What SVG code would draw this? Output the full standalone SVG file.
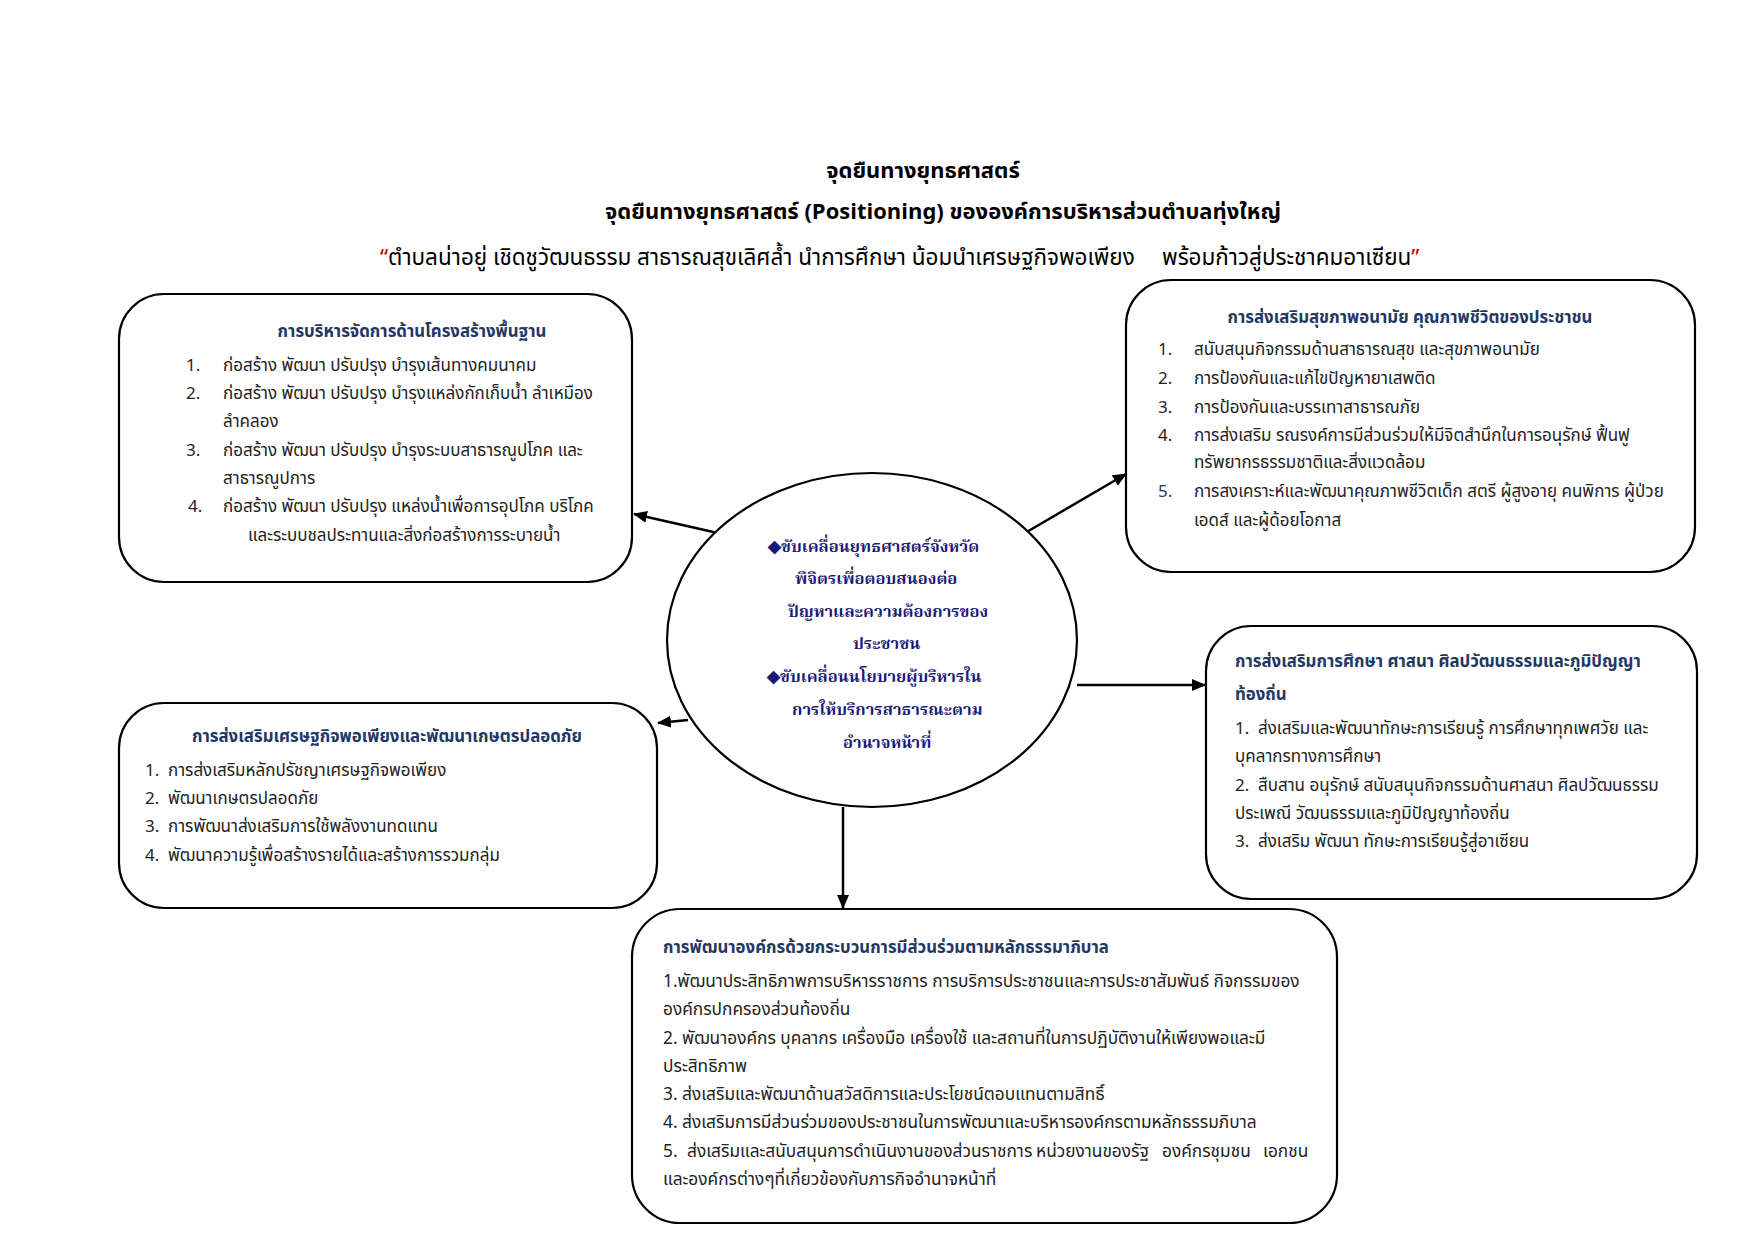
<svg xmlns="http://www.w3.org/2000/svg" width="1754" height="1240" viewBox="0 0 1754 1240">
<style>
.t{font-family:Tahoma,"Noto Sans Thai","Noto Sans Thai UI",Loma,Garuda,"Noto Sans",sans-serif;fill:#222}
.title{font-size:22px;font-weight:bold;fill:#000}
.sub{font-size:22.5px;fill:#000}
.q{fill:#C00000}
.hd{font-size:16.8px;font-weight:bold;fill:#1F3864}
.it{font-size:17px}
.it5{font-size:17.3px}
.c{font-family:"Noto Serif Thai","Angsana New",Tahoma,"Noto Sans Thai",serif;font-size:16.5px;font-weight:bold;fill:#1A1A78}
.box{fill:#fff;stroke:#000;stroke-width:2.2}
.ln{stroke:#000;stroke-width:2.5;fill:none;marker-end:url(#ah)}
</style>
<defs>
<marker id="ah" markerUnits="userSpaceOnUse" markerWidth="14" markerHeight="12" refX="13" refY="6" orient="auto">
<path d="M0,0 L14,6 L0,12 z" fill="#000"/>
</marker>
</defs>
<rect width="1754" height="1240" fill="#fff"/>
<g id="title" class="t">
<text class="t title" x="923" y="178" text-anchor="middle">จุดยืนทางยุทธศาสตร์</text>
<text class="t title" x="943" y="219" text-anchor="middle">จุดยืนทางยุทธศาสตร์ (Positioning) ขององค์การบริหารส่วนตำบลทุ่งใหญ่</text>
<text class="t sub" x="380" y="265"><tspan class="q">“</tspan>ตำบลน่าอยู่ เชิดชูวัฒนธรรม สาธารณสุขเลิศล้ำ นำการศึกษา น้อมนำเศรษฐกิจพอเพียง<tspan x="1162">พร้อมก้าวสู่ประชาคมอาเซียน</tspan><tspan class="q">”</tspan></text>
</g>
<g id="connectors">
<line class="ln" x1="722" y1="534" x2="634" y2="514"/>
<line class="ln" x1="1025" y1="533" x2="1126" y2="474"/>
<line class="ln" x1="1077" y1="685" x2="1205" y2="685"/>
<line class="ln" x1="688" y1="720" x2="658" y2="723"/>
<line class="ln" x1="843" y1="807" x2="843" y2="908"/>
</g>
<g id="center">
<ellipse cx="872" cy="640" rx="205" ry="167" fill="#fff" stroke="#000" stroke-width="2.2"/>
<text class="c" x="768" y="552">◆ขับเคลื่อนยุทธศาสตร์จังหวัด</text>
<text class="c" x="795" y="584">พิจิตรเพื่อตอบสนองต่อ</text>
<text class="c" x="788" y="617">ปัญหาและความต้องการของ</text>
<text class="c" x="853" y="649">ประชาชน</text>
<text class="c" x="767" y="682">◆ขับเคลื่อนนโยบายผู้บริหารใน</text>
<text class="c" x="792" y="715">การให้บริการสาธารณะตาม</text>
<text class="c" x="843" y="748">อำนาจหน้าที่</text>
</g>
<g id="infra">
<rect class="box" x="119" y="294" width="513" height="288" rx="45"/>
<text class="t hd" x="412" y="337" text-anchor="middle">การบริหารจัดการด้านโครงสร้างพื้นฐาน</text>
<g class="t it">
<text x="186" y="371">1.</text><text x="223" y="371">ก่อสร้าง พัฒนา ปรับปรุง บำรุงเส้นทางคมนาคม</text>
<text x="186" y="399">2.</text><text x="223" y="399">ก่อสร้าง พัฒนา ปรับปรุง บำรุงแหล่งกักเก็บน้ำ ลำเหมือง</text>
<text x="223" y="427">ลำคลอง</text>
<text x="186" y="456">3.</text><text x="223" y="456">ก่อสร้าง พัฒนา ปรับปรุง บำรุงระบบสาธารณูปโภค และ</text>
<text x="223" y="484">สาธารณูปการ</text>
<text x="188" y="512">4.</text><text x="223" y="512">ก่อสร้าง พัฒนา ปรับปรุง แหล่งน้ำเพื่อการอุปโภค  บริโภค</text>
<text x="248" y="541">และระบบชลประทานและสิ่งก่อสร้างการระบายน้ำ</text>
</g>
</g>
<g id="health">
<rect class="box" x="1126" y="280" width="569" height="292" rx="45"/>
<text class="t hd" x="1410" y="323" text-anchor="middle">การส่งเสริมสุขภาพอนามัย คุณภาพชีวิตของประชาชน</text>
<g class="t it">
<text x="1158" y="355">1.</text><text x="1194" y="355">สนับสนุนกิจกรรมด้านสาธารณสุข และสุขภาพอนามัย</text>
<text x="1158" y="384">2.</text><text x="1194" y="384">การป้องกันและแก้ไขปัญหายาเสพติด</text>
<text x="1158" y="413">3.</text><text x="1194" y="413">การป้องกันและบรรเทาสาธารณภัย</text>
<text x="1158" y="441">4.</text><text x="1194" y="441">การส่งเสริม รณรงค์การมีส่วนร่วมให้มีจิตสำนึกในการอนุรักษ์ ฟื้นฟู</text>
<text x="1194" y="468">ทรัพยากรธรรมชาติและสิ่งแวดล้อม</text>
<text x="1158" y="497" style="fill:#1F3864">5.</text><text x="1194" y="497">การสงเคราะห์และพัฒนาคุณภาพชีวิตเด็ก สตรี ผู้สูงอายุ คนพิการ ผู้ป่วย</text>
<text x="1194" y="526">เอดส์ และผู้ด้อยโอกาส</text>
</g>
</g>
<g id="economy">
<rect class="box" x="119" y="703" width="538" height="205" rx="45"/>
<text class="t hd" x="387" y="742" text-anchor="middle">การส่งเสริมเศรษฐกิจพอเพียงและพัฒนาเกษตรปลอดภัย</text>
<g class="t it">
<text x="145" y="776">1.</text><text x="168" y="776">การส่งเสริมหลักปรัชญาเศรษฐกิจพอเพียง</text>
<text x="145" y="804">2.</text><text x="168" y="804">พัฒนาเกษตรปลอดภัย</text>
<text x="145" y="832">3.</text><text x="168" y="832">การพัฒนาส่งเสริมการใช้พลังงานทดแทน</text>
<text x="145" y="861">4.</text><text x="168" y="861">พัฒนาความรู้เพื่อสร้างรายได้และสร้างการรวมกลุ่ม</text>
</g>
</g>
<g id="education">
<rect class="box" x="1206" y="626" width="491" height="273" rx="45"/>
<g class="t hd">
<text x="1235" y="667">การส่งเสริมการศึกษา ศาสนา ศิลปวัฒนธรรมและภูมิปัญญา</text>
<text x="1235" y="700">ท้องถิ่น</text>
</g>
<g class="t it">
<text x="1235" y="734">1.</text><text x="1258" y="734">ส่งเสริมและพัฒนาทักษะการเรียนรู้ การศึกษาทุกเพศวัย และ</text>
<text x="1235" y="762">บุคลากรทางการศึกษา</text>
<text x="1235" y="791">2.</text><text x="1258" y="791">สืบสาน อนุรักษ์ สนับสนุนกิจกรรมด้านศาสนา ศิลปวัฒนธรรม</text>
<text x="1235" y="819">ประเพณี  วัฒนธรรมและภูมิปัญญาท้องถิ่น</text>
<text x="1235" y="847">3.</text><text x="1258" y="847">ส่งเสริม พัฒนา ทักษะการเรียนรู้สู่อาเซียน</text>
</g>
</g>
<g id="governance">
<rect class="box" x="632" y="909" width="705" height="314" rx="48"/>
<text class="t hd" x="663" y="953">การพัฒนาองค์กรด้วยกระบวนการมีส่วนร่วมตามหลักธรรมาภิบาล</text>
<g class="t it5">
<text x="663" y="987">1.พัฒนาประสิทธิภาพการบริหารราชการ การบริการประชาชนและการประชาสัมพันธ์ กิจกรรมของ</text>
<text x="663" y="1015">องค์กรปกครองส่วนท้องถิ่น</text>
<text x="663" y="1044">2. พัฒนาองค์กร บุคลากร เครื่องมือ เครื่องใช้ และสถานที่ในการปฏิบัติงานให้เพียงพอและมี</text>
<text x="663" y="1072">ประสิทธิภาพ</text>
<text x="663" y="1100">3. ส่งเสริมและพัฒนาด้านสวัสดิการและประโยชน์ตอบแทนตามสิทธิ์</text>
<text x="663" y="1128">4. ส่งเสริมการมีส่วนร่วมของประชาชนในการพัฒนาและบริหารองค์กรตามหลักธรรมภิบาล</text>
<text x="663" y="1157">5.</text><text x="687" y="1157">ส่งเสริมและสนับสนุนการดำเนินงานของส่วนราชการ</text><text x="1036" y="1157">หน่วยงานของรัฐ</text><text x="1162" y="1157">องค์กรชุมชน</text><text x="1263" y="1157">เอกชน</text>
<text x="663" y="1185">และองค์กรต่างๆที่เกี่ยวข้องกับภารกิจอำนาจหน้าที่</text>
</g>
</g>
</svg>
